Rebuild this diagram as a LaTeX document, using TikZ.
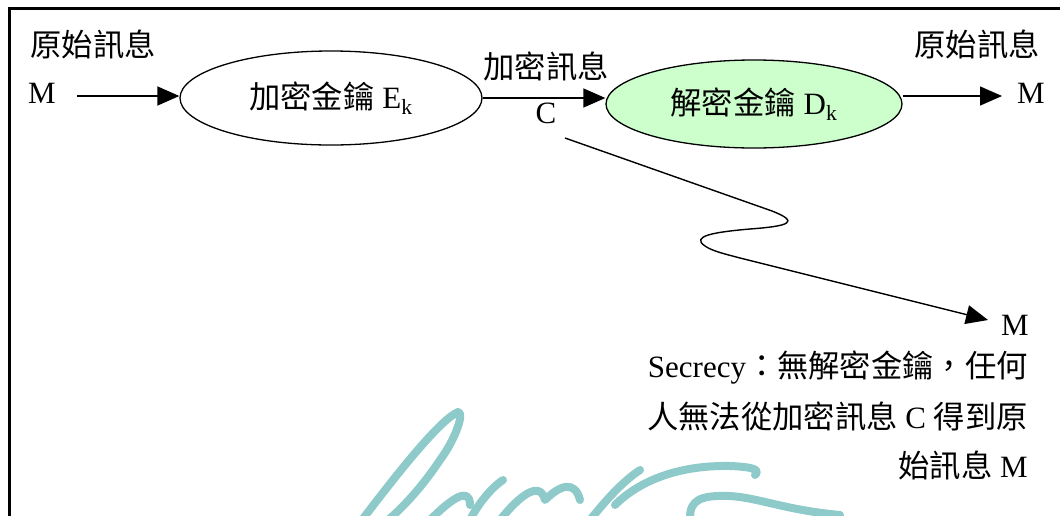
\documentclass[tikz,border=0pt]{standalone}
\usepackage{fontspec}
\setmainfont{Liberation Serif}
\newfontfamily\cjk[Scale=1.01]{Noto Sans CJK TC}
\usetikzlibrary{shapes.geometric,arrows.meta}
\definecolor{keygreen}{HTML}{CCFFCC}
\definecolor{wmark}{HTML}{8FCACA}
\newcommand{\zh}[1]{{\cjk #1}}
\begin{document}
\begin{tikzpicture}[x=1pt,y=-1pt,
  txt/.style={font=\fontsize{31}{36}\selectfont, inner sep=0pt},
  arr/.style={-{Triangle[length=22pt,width=19pt]}, line width=1.4pt},
  keynode/.style={ellipse, draw, line width=1.3pt, inner sep=0pt, font=\fontsize{31}{36}\selectfont},
  wm/.style={wmark, line width=8pt, line cap=round, line join=round}]
\useasboundingbox (0,0) rectangle (1060,515);
% watermark
\begin{scope}[wm]
\draw (362,520) .. controls (400,470) and (440,420) .. (458,412) .. controls (465,412) and (455,440) .. (440,460) .. controls (420,490) and (400,510) .. (388,520);
\draw (470,520) .. controls (480,500) and (495,485) .. (503,480);
\draw (430,520) .. controls (450,500) and (470,485) .. (470,505);
\draw (500,520) .. controls (520,495) and (540,480) .. (545,500) .. controls (560,485) and (575,480) .. (580,500);
\draw (590,520) .. controls (610,495) and (625,480) .. (640,470);
\draw (615,505) .. controls (640,480) and (680,465) .. (730,466) .. controls (755,467) and (760,470) .. (755,475);
\draw (690,518) .. controls (690,500) and (700,495) .. (730,496) .. controls (760,498) and (785,510) .. (840,515);
\end{scope}
% frame
\draw[line width=2.4pt] (9.5,520) -- (9.5,8.5) -- (1065,8.5);
% left
\node[txt] (src) at (93,44) {\zh{原始訊息}};
\node[txt] (M1) at (42,93) {M};
\node[keynode, minimum width=302pt, minimum height=94pt] (enc) at (331,98) {\zh{加密金鑰} E\textsubscript{k}};
\coordinate (a1) at (77,96);
\draw[arr] (a1) -- (a1 -| enc.west);
% middle
\node[txt] (cmsg) at (546,66) {\zh{加密訊息}};
\node[txt] (C) at (546,113) {C};
\node[keynode, fill=keygreen, minimum width=296pt, minimum height=88pt] (dec) at (754,104) {\zh{解密金鑰} D\textsubscript{k}};
\draw[arr] (enc.east) -- (enc.east -| dec.west);
% right
\node[txt] (dst) at (977,44) {\zh{原始訊息}};
\node[txt] (M2) at (1031,93) {M};
\coordinate (a3) at (1002,96);
\draw[arr] (a3 -| dec.east) -- (a3);
% eavesdropper path
\node[txt] (M3) at (1015,325) {M};
\coordinate (w0) at (565,138);
\coordinate (w1) at (988,320);
\draw[arr] (w0) -- (772,211) .. controls (800,222) and (790,226) .. (750,229)
  .. controls (715,232) and (690,236) .. (705,246) .. controls (712,251) and (725,254) .. (740,258) -- (w1);
% description
\node[txt, anchor=base east] (l1) at (1028,377) {Secrecy\zh{：無解密金鑰，任何}};
\node[txt, anchor=base east] (l2) at (1028,428) {\zh{人無法從加密訊息} C \zh{得到原}};
\node[txt, anchor=base east] (l3) at (1028,477) {\zh{始訊息} M};
\end{tikzpicture}
\end{document}
